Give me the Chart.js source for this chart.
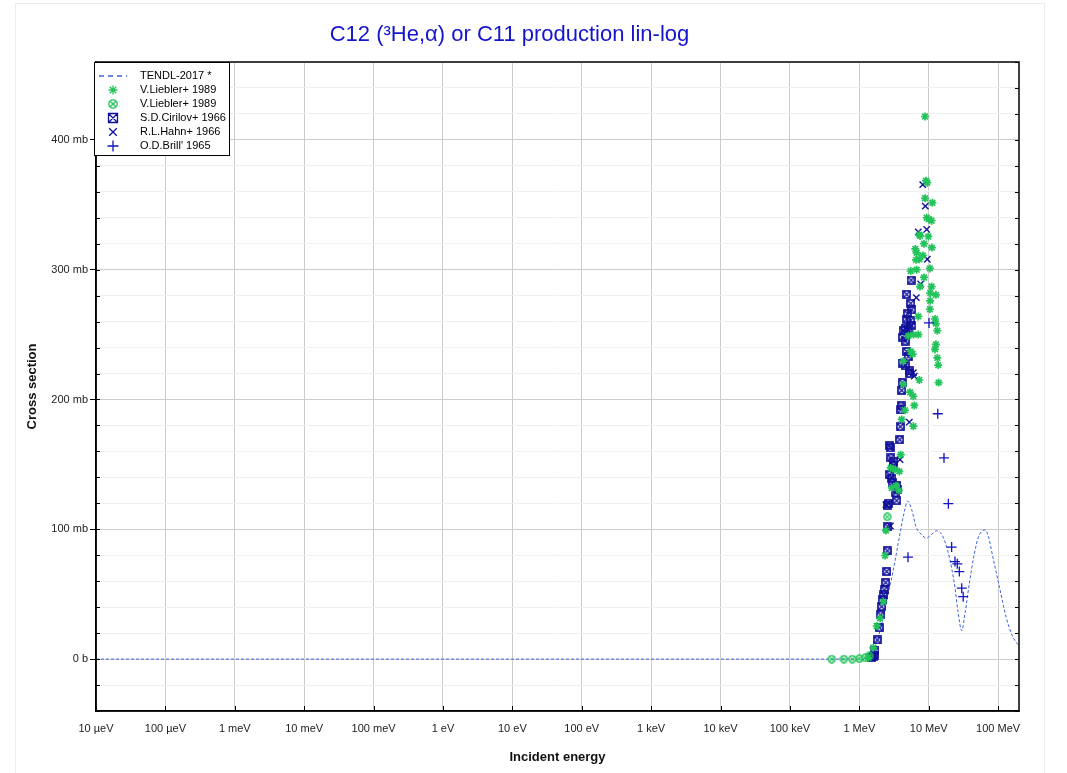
<!DOCTYPE html>
<html>
<head>
    <meta charset="UTF-8" />
    <title>C12 (3He,a) or C11 production lin-log</title>
    <script src="https://cdn.jsdelivr.net/npm/chart.js@4.4.9/dist/chart.umd.min.js"></script>
    <style>
        body { margin: 0; background: #fff; }
        #frame { position: absolute; left: 15px; top: 3px; width: 1028px; height: 790px; border: 1px solid #ececec; }
        #chart { position: absolute; left: 0; top: 0; }
    </style>
</head>
<body>
    <div id="frame"></div>
    <canvas id="chart" width="1067" height="773"></canvas>
<script>
    // x axis: energies in MeV, decade ticks
    const xTickValues = [1e-11, 1e-10, 1e-9, 1e-8, 1e-7, 1e-6, 1e-5, 1e-4, 1e-3, 1e-2, 1e-1, 1, 10, 100];
    const xTickLabels = ['10 µeV', '100 µeV', '1 meV', '10 meV', '100 meV', '1 eV', '10 eV', '100 eV',
                         '1 keV', '10 keV', '100 keV', '1 MeV', '10 MeV', '100 MeV'];

    // TENDL-2017 evaluation (MeV, mb)
    const tendlE  = [1e-11, 1.2, 1.45, 1.64, 1.83, 2.22, 2.62, 3.09, 3.64, 4.31, 4.98, 5.69, 6.56, 7.93, 9.35,
                     11.0, 13.0, 15.5, 18.7, 21.4, 23.9, 26.5, 29.9, 33.5, 38.5, 45, 52, 60, 65, 72, 83.7, 105, 130, 160, 200];
    const tendlXS = [0, 0, 1.5, 5.6, 14.7, 32.7, 50.7, 68.7, 89.3, 110, 121.7, 115, 102, 95.8, 93.2,
                     96, 98.8, 95.8, 84, 70, 55, 36, 21.9, 36, 58.4, 80, 94, 99, 99.5, 95, 79, 55, 32.7, 18, 10];

    // V.Liebler+ 1989 (asterisks)
    const lieblerE  = [8.85, 9.14, 9.54, 8.85, 11.3, 9.35, 10.0, 11.0, 7.32, 9.88, 7.5, 8.55, 11.1, 6.41, 6.7,
                       8.2, 7.32, 6.56, 10.4, 5.5, 6.7, 8.55, 7.5, 11.0, 10.5, 12.7, 10.5, 7.08, 10.4, 12.3,
                       12.7, 13.3, 5.08, 7.08, 6.0, 12.7, 12.3, 5.5, 5.87, 13.3, 13.7, 4.31, 13.9, 4.31, 7.32,
                       5.38, 6.0, 6.2, 4.56, 4.08, 6.0, 3.95, 2.83, 3.27, 3.77, 3.38, 2.93, 3.73, 2.42, 2.35,
                       2.22, 1.99, 1.78, 1.59, 1.35];
    const lieblerXS = [418, 368.6, 367, 355, 351.6, 340, 339, 337.7, 327, 325.6, 326, 320, 317, 316, 313,
                       311, 308, 307.6, 301, 299, 300, 294, 287, 287, 282, 280.6, 276, 264, 269.5, 262,
                       258.5, 253, 249, 250, 250, 242.5, 238.6, 237, 235, 232, 226.5, 229.6, 213, 211.6, 215,
                       205.6, 202.5, 195.4, 191.7, 184.6, 179.4, 157.5, 147.3, 146, 144.6, 133.6, 131.8, 130, 99, 79.8,
                       44.2, 31.4, 25.5, 8.7, 1];

    // V.Liebler+ 1989 (circled x)
    const liebler2E  = [0.40, 0.60, 0.79, 1.0, 1.21, 1.39, 2.53];
    const liebler2XS = [0, 0, 0, 0.3, 1, 2.5, 109.6];

    // S.D.Cirilov+ 1966
    const cirilovE  = [1.5, 1.58, 1.63, 1.68, 1.82, 1.94, 2.03, 2.10, 2.15, 2.22, 2.29, 2.40, 2.48, 2.53, 2.57,
                       2.51, 2.62, 3.46, 3.34, 3.53, 3.46, 3.03, 2.93, 2.71, 3.10, 3.16, 2.86, 2.77, 2.71, 3.82,
                       3.90, 3.95, 3.99, 4.08, 4.17, 5.25, 5.25, 4.56, 4.17, 5.08, 4.82, 4.56, 4.17, 4.31, 5.08,
                       4.56, 5.69, 5.50, 4.82, 4.92, 5.69, 5.50, 4.82, 5.56];
    const cirilovXS = [1, 2, 3.1, 6.4, 14.7, 24.2, 34, 40.4, 45.6, 49.4, 53.3, 58.9, 67.4, 83.4, 102,
                       118.4, 120, 122, 128, 131, 134, 136, 139.5, 142, 149, 152, 155, 162.7, 164.5, 169,
                       179, 192, 195, 207, 213, 220, 222, 226, 228, 233, 237, 245, 248, 253, 254,
                       255, 257, 261, 262, 266, 269, 274, 281, 292];

    // R.L.Hahn+ 1966
    const hahnE  = [8.2, 8.93, 9.35, 7.08, 9.54, 7.66, 6.63, 6.0, 6.2, 5.25, 3.86, 2.42, 2.80];
    const hahnXS = [365.5, 349, 331, 329, 308, 289, 278.5, 220.6, 218, 182.5, 153.7, 119, 102.5];

    // O.D.Brill' 1965
    const brillE  = [5.03, 10.1, 13.5, 16.6, 19.2, 21.4, 23.9, 25.8, 27.6, 29.9, 31.4];
    const brillXS = [78.5, 259, 189, 155, 119.7, 86.3, 75.1, 73.4, 67.4, 54.6, 48.1];

    const FONT = "'Liberation Sans', Arial, sans-serif";
    const GREEN = '#22c35a';
    const NAVY = '#10109a';
    const BLUE = '#1414c0';
    const TENDL_BLUE = '#3d63e0';

    function pts(xs, ys) {
        return xs.map((x, i) => ({ x: x, y: ys[i] }));
    }

    // small marker images that Chart.js has no style for
    function circleX(color) {
        const c = document.createElement('canvas');
        c.width = 9; c.height = 9;
        const g = c.getContext('2d');
        g.strokeStyle = color; g.lineWidth = 1.4;
        g.beginPath(); g.arc(4.5, 4.5, 3.5, 0, Math.PI * 2); g.stroke();
        g.lineWidth = 1.1;
        g.beginPath();
        g.moveTo(2.3, 2.3); g.lineTo(6.7, 6.7);
        g.moveTo(6.7, 2.3); g.lineTo(2.3, 6.7);
        g.stroke();
        return c;
    }
    function boxX(color) {
        const c = document.createElement('canvas');
        c.width = 9; c.height = 9;
        const g = c.getContext('2d');
        g.strokeStyle = color; g.lineWidth = 1.7;
        g.strokeRect(1, 1, 7, 7);
        g.lineWidth = 1.2;
        g.beginPath();
        g.moveTo(1.5, 1.5); g.lineTo(7.5, 7.5);
        g.moveTo(7.5, 1.5); g.lineTo(1.5, 7.5);
        g.stroke();
        return c;
    }
    const circleImg = circleX(GREEN);
    const boxImg = boxX(NAVY);

    const legendItems = [
        { label: 'TENDL-2017 *', kind: 'line', color: TENDL_BLUE },
        { label: 'V.Liebler+ 1989', kind: 'star', color: GREEN },
        { label: 'V.Liebler+ 1989', kind: 'circ', color: GREEN },
        { label: 'S.D.Cirilov+ 1966', kind: 'box', color: NAVY },
        { label: 'R.L.Hahn+ 1966', kind: 'x', color: NAVY },
        { label: "O.D.Brill' 1965", kind: 'plus', color: BLUE }
    ];

    // frame, inner tick marks and the boxed legend
    const framePlugin = {
        id: 'frame',
        afterDatasetsDraw(chart) {
            const ctx = chart.ctx;
            const a = chart.chartArea;
            const xs = chart.scales.x, ys = chart.scales.y;
            ctx.save();
            ctx.strokeStyle = '#000';
            ctx.lineWidth = 1;
            ctx.beginPath();
            for (let v = -40; v <= 460; v += 20) {
                const y = Math.round(ys.getPixelForValue(v)) + 0.5;
                ctx.moveTo(a.left, y); ctx.lineTo(a.left + 4, y);
                ctx.moveTo(a.right, y); ctx.lineTo(a.right - 4, y);
            }
            xTickValues.forEach(v => {
                const x = Math.round(xs.getPixelForValue(v)) + 0.5;
                ctx.moveTo(x, a.bottom); ctx.lineTo(x, a.bottom - 5);
            });
            ctx.stroke();
            ctx.lineWidth = 1.5;
            ctx.strokeRect(a.left, a.top, a.right - a.left, a.bottom - a.top);

            // legend
            const lx = 94.5, ly = 62.5, lw = 135, lh = 93;
            ctx.fillStyle = '#fff';
            ctx.fillRect(lx, ly, lw, lh);
            ctx.lineWidth = 1;
            ctx.strokeStyle = '#000';
            ctx.strokeRect(lx, ly, lw, lh);
            ctx.font = '11px ' + FONT;
            ctx.textBaseline = 'middle';
            legendItems.forEach((it, i) => {
                const y = Math.round(75.5 + i * 14.1);
                const sx = 113;
                ctx.strokeStyle = it.color;
                ctx.lineWidth = 1.3;
                ctx.beginPath();
                if (it.kind === 'line') {
                    ctx.lineWidth = 1.6;
                    ctx.setLineDash([5, 4]);
                    ctx.moveTo(99, y); ctx.lineTo(127, y);
                    ctx.stroke();
                    ctx.setLineDash([]);
                } else if (it.kind === 'star') {
                    const r = 4.5;
                    ctx.moveTo(sx - r, y); ctx.lineTo(sx + r, y);
                    ctx.moveTo(sx, y - r); ctx.lineTo(sx, y + r);
                    const d = r * 0.72;
                    ctx.moveTo(sx - d, y - d); ctx.lineTo(sx + d, y + d);
                    ctx.moveTo(sx + d, y - d); ctx.lineTo(sx - d, y + d);
                    ctx.stroke();
                } else if (it.kind === 'circ') {
                    ctx.arc(sx, y, 4.2, 0, Math.PI * 2);
                    ctx.moveTo(sx - 2.8, y - 2.8); ctx.lineTo(sx + 2.8, y + 2.8);
                    ctx.moveTo(sx + 2.8, y - 2.8); ctx.lineTo(sx - 2.8, y + 2.8);
                    ctx.stroke();
                } else if (it.kind === 'box') {
                    ctx.rect(sx - 4.5, y - 4.5, 9, 9);
                    ctx.moveTo(sx - 4.5, y - 4.5); ctx.lineTo(sx + 4.5, y + 4.5);
                    ctx.moveTo(sx + 4.5, y - 4.5); ctx.lineTo(sx - 4.5, y + 4.5);
                    ctx.stroke();
                } else if (it.kind === 'x') {
                    ctx.moveTo(sx - 3.8, y - 3.8); ctx.lineTo(sx + 3.8, y + 3.8);
                    ctx.moveTo(sx + 3.8, y - 3.8); ctx.lineTo(sx - 3.8, y + 3.8);
                    ctx.stroke();
                } else {
                    ctx.moveTo(sx - 5.5, y); ctx.lineTo(sx + 5.5, y);
                    ctx.moveTo(sx, y - 5.5); ctx.lineTo(sx, y + 5.5);
                    ctx.stroke();
                }
                ctx.fillStyle = '#000';
                ctx.fillText(it.label, 140, y);
            });
            ctx.restore();
        }
    };

    const chart = new Chart(document.getElementById('chart'), {
        type: 'scatter',
        data: {
            datasets: [
                {
                    label: 'TENDL-2017 *',
                    type: 'line',
                    data: pts(tendlE, tendlXS),
                    borderColor: TENDL_BLUE,
                    borderWidth: 1,
                    borderDash: [3, 2],
                    pointRadius: 0,
                    cubicInterpolationMode: 'monotone',
                    fill: false,
                    order: 6
                },
                {
                    label: 'S.D.Cirilov+ 1966',
                    data: pts(cirilovE, cirilovXS),
                    pointStyle: boxImg,
                    order: 4
                },
                {
                    label: 'R.L.Hahn+ 1966',
                    data: pts(hahnE, hahnXS),
                    pointStyle: 'crossRot',
                    radius: 4.5,
                    borderColor: NAVY,
                    borderWidth: 1.4,
                    order: 3
                },
                {
                    label: 'V.Liebler+ 1989',
                    data: pts(lieblerE, lieblerXS),
                    pointStyle: 'star',
                    radius: 4,
                    borderColor: GREEN,
                    borderWidth: 1.7,
                    order: 2
                },
                {
                    label: 'V.Liebler+ 1989',
                    data: pts(liebler2E, liebler2XS),
                    pointStyle: circleImg,
                    order: 1
                },
                {
                    label: "O.D.Brill' 1965",
                    data: pts(brillE, brillXS),
                    pointStyle: 'cross',
                    radius: 5,
                    borderColor: BLUE,
                    borderWidth: 1.3,
                    order: 0
                }
            ]
        },
        options: {
            responsive: false,
            animation: false,
            devicePixelRatio: 1,
            layout: { padding: { left: 0, right: 48, top: 0, bottom: 0 } },
            plugins: {
                legend: { display: false },
                tooltip: { enabled: false },
                title: {
                    display: true,
                    text: 'C12 (³He,α) or C11 production lin-log',
                    color: '#1414cc',
                    font: { family: FONT, size: 22, weight: 'normal' },
                    padding: { top: 22, bottom: 13.6 }
                }
            },
            scales: {
                x: {
                    type: 'logarithmic',
                    min: 1e-11,
                    max: 200,
                    afterBuildTicks: s => { s.ticks = xTickValues.map(v => ({ value: v })); },
                    afterFit: s => { s.height = 62; },
                    ticks: {
                        autoSkip: false,
                        maxRotation: 0,
                        padding: 11,
                        color: '#222',
                        font: { family: FONT, size: 11 },
                        callback: (v, i) => xTickLabels[i]
                    },
                    grid: { color: '#cccccc', drawTicks: false },
                    border: { color: '#000', width: 1.5 },
                    title: {
                        display: true,
                        text: 'Incident energy',
                        color: '#111',
                        font: { family: FONT, size: 13, weight: 'bold' },
                        padding: { top: 4, bottom: 8 }
                    }
                },
                y: {
                    type: 'linear',
                    min: -40,
                    max: 460,
                    afterFit: s => { s.width = 96; },
                    ticks: {
                        stepSize: 20,
                        autoSkip: false,
                        padding: 2,
                        color: '#222',
                        font: { family: FONT, size: 11 },
                        callback: v => v === 0 ? '0 b' : (v % 100 === 0 ? v + ' mb' : '')
                    },
                    grid: {
                        color: c => (c.tick && c.tick.value % 100 === 0) ? '#cdcdcd' : '#f0f0f0',
                        tickColor: c => (c.tick && c.tick.value % 100 === 0) ? '#000' : 'rgba(0,0,0,0)',
                        tickLength: 6
                    },
                    border: { color: '#000', width: 1.5 },
                    title: {
                        display: true,
                        text: 'Cross section',
                        color: '#111',
                        font: { family: FONT, size: 13, weight: 'bold' },
                        padding: { top: 25, bottom: 4 }
                    }
                }
            }
        },
        plugins: [framePlugin]
    });
</script>
</body>
</html>
